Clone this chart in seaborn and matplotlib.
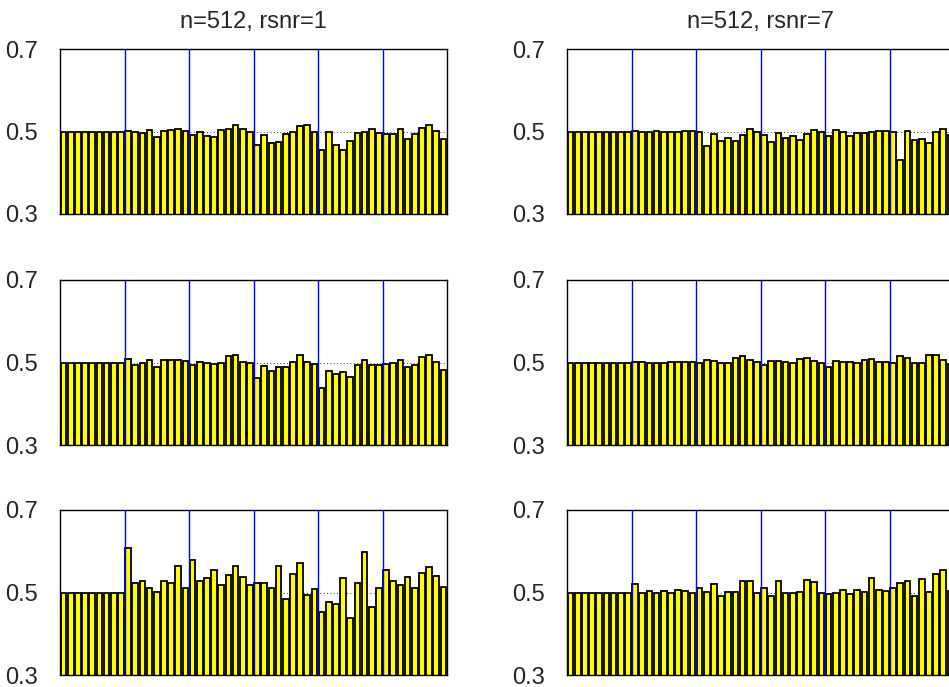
# Bar panels of per-bin values for two rsnr settings (n=512), three runs each

# Import libraries
import matplotlib
matplotlib.use("Agg")
import matplotlib.pyplot as plt
import seaborn as sns
import pandas as pd
import numpy as np

# Bar values, 54 bins in 6 groups of 9
rsnr1_run1 = [0.5, 0.5, 0.5, 0.5, 0.5, 0.5, 0.5, 0.5, 0.5,
              0.502, 0.498, 0.496, 0.503, 0.486, 0.502, 0.504, 0.506, 0.502,
              0.491, 0.498, 0.488, 0.486, 0.503, 0.507, 0.516, 0.506, 0.498,
              0.467, 0.491, 0.471, 0.474, 0.494, 0.498, 0.514, 0.515, 0.498,
              0.454, 0.5, 0.468, 0.454, 0.478, 0.497, 0.5, 0.506, 0.497,
              0.495, 0.495, 0.505, 0.481, 0.494, 0.508, 0.515, 0.502, 0.482]
rsnr1_run2 = [0.5, 0.5, 0.5, 0.5, 0.5, 0.5, 0.5, 0.5, 0.5,
              0.509, 0.494, 0.499, 0.505, 0.489, 0.507, 0.506, 0.507, 0.503,
              0.493, 0.502, 0.498, 0.497, 0.499, 0.515, 0.519, 0.502, 0.5,
              0.462, 0.492, 0.479, 0.490, 0.490, 0.502, 0.517, 0.502, 0.497,
              0.439, 0.479, 0.473, 0.477, 0.465, 0.493, 0.506, 0.495, 0.494,
              0.497, 0.498, 0.507, 0.488, 0.495, 0.513, 0.518, 0.502, 0.483]
rsnr1_run3 = [0.5, 0.5, 0.5, 0.5, 0.5, 0.5, 0.5, 0.5, 0.5,
              0.608, 0.524, 0.529, 0.512, 0.502, 0.528, 0.524, 0.564, 0.511,
              0.579, 0.528, 0.536, 0.555, 0.517, 0.542, 0.564, 0.537, 0.517,
              0.524, 0.524, 0.512, 0.565, 0.485, 0.546, 0.572, 0.494, 0.509,
              0.453, 0.477, 0.472, 0.536, 0.437, 0.523, 0.598, 0.466, 0.511,
              0.555, 0.529, 0.517, 0.537, 0.512, 0.548, 0.563, 0.539, 0.514]
rsnr7_run1 = [0.5, 0.5, 0.5, 0.5, 0.5, 0.5, 0.5, 0.5, 0.5,
              0.502, 0.498, 0.499, 0.502, 0.498, 0.498, 0.498, 0.502, 0.502,
              0.498, 0.465, 0.495, 0.478, 0.485, 0.477, 0.492, 0.506, 0.498,
              0.491, 0.474, 0.496, 0.485, 0.489, 0.480, 0.493, 0.503, 0.499,
              0.490, 0.503, 0.498, 0.489, 0.496, 0.496, 0.5, 0.502, 0.501,
              0.498, 0.432, 0.502, 0.480, 0.482, 0.472, 0.498, 0.505, 0.492]
rsnr7_run2 = [0.5, 0.5, 0.5, 0.5, 0.5, 0.5, 0.5, 0.5, 0.5,
              0.502, 0.502, 0.5, 0.498, 0.5, 0.502, 0.502, 0.502, 0.501,
              0.498, 0.507, 0.504, 0.5, 0.498, 0.512, 0.515, 0.506, 0.501,
              0.494, 0.503, 0.503, 0.501, 0.498, 0.509, 0.510, 0.504, 0.5,
              0.490, 0.503, 0.501, 0.501, 0.498, 0.506, 0.508, 0.502, 0.502,
              0.498, 0.516, 0.512, 0.498, 0.5, 0.518, 0.518, 0.507, 0.496]
rsnr7_run3 = [0.5, 0.5, 0.5, 0.5, 0.5, 0.5, 0.5, 0.5, 0.5,
              0.520, 0.5, 0.503, 0.498, 0.503, 0.5, 0.507, 0.504, 0.498,
              0.511, 0.501, 0.520, 0.492, 0.502, 0.502, 0.527, 0.528, 0.498,
              0.511, 0.492, 0.528, 0.498, 0.499, 0.501, 0.531, 0.525, 0.5,
              0.496, 0.5, 0.506, 0.496, 0.506, 0.502, 0.534, 0.505, 0.503,
              0.510, 0.523, 0.528, 0.491, 0.533, 0.501, 0.544, 0.555, 0.503]

titles = ["n=512, rsnr=1", "n=512, rsnr=7"]
columns = [[rsnr1_run1, rsnr1_run2, rsnr1_run3],
           [rsnr7_run1, rsnr7_run2, rsnr7_run3]]
y_ticks = [0.3, 0.5, 0.7]
group_size = 9

sns.set_style("white")
plt.rcParams['font.family'] = ['Liberation Sans', 'DejaVu Sans']

fig = plt.figure(figsize=(9.49, 6.87), dpi=100)

# Axes placed in pixels; the right column runs past the figure edge like the reference
W, H = 949, 687
ax_w, ax_h = 387, 165
lefts = [60, 567]
tops = [49, 280, 510]

for col, runs in enumerate(columns):
    for row, vals in enumerate(runs):
        ax = fig.add_axes([lefts[col] / W, 1 - (tops[row] + ax_h) / H, ax_w / W, ax_h / H])
        df = pd.DataFrame({"bin": np.arange(len(vals)), "value": vals})

        # Dotted reference line at 0.5 behind the bars
        ax.axhline(0.5, color='black', linestyle=(0, (1, 3)), linewidth=0.6, zorder=0)

        sns.barplot(data=df, x="bin", y="value", color='#ffff00', saturation=1,
                    edgecolor='black', linewidth=1.3, width=0.8, ax=ax, zorder=2)

        # Blue group separators
        for k in range(1, len(vals) // group_size):
            ax.axvline(k * group_size - 0.5, color='#0000ff', linewidth=1.0, zorder=3)

        ax.set_xlim(-0.5, len(vals) - 0.5)
        ax.set_ylim(0.3, 0.7)
        ax.set_yticks(y_ticks)
        ax.set_yticklabels([f"{t:.1f}" for t in y_ticks])
        ax.set_xticks([])
        ax.set_xlabel("")
        ax.set_ylabel("")
        ax.tick_params(axis='y', length=0, pad=16, labelsize=17)
        for pos in ['left', 'right', 'top', 'bottom']:
            ax.spines[pos].set_visible(True)
            ax.spines[pos].set_color('black')
            ax.spines[pos].set_linewidth(1.0)
        if row == 0:
            ax.set_title(titles[col], fontsize=17, pad=15)

plt.savefig("out.png", dpi=100)
plt.close()
